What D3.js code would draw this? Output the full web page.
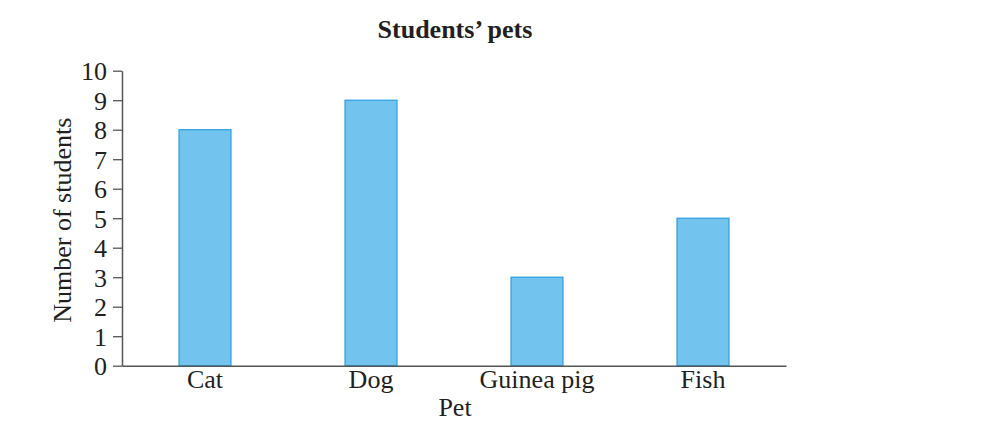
<!DOCTYPE html>
<html>
<head>
<meta charset="utf-8">
<script src="https://cdn.jsdelivr.net/npm/d3@7"></script>
<style>
  html, body { margin: 0; padding: 0; background: #fff; }
  svg { display: block; }
  text { font-family: "Liberation Serif", "DejaVu Serif", serif; fill: #231f20; }
</style>
</head>
<body>
<svg id="chart" width="988" height="442"></svg>
<script>
const categories = ["Cat", "Dog", "Guinea pig", "Fish"];
const values = [8, 9, 3, 5];
const yTicks = [0, 1, 2, 3, 4, 5, 6, 7, 8, 9, 10];
const titleText = "Students\u2019 pets";
const xLabel = "Pet";
const yLabel = "Number of students";

const svg = d3.select("#chart");
const plotLeft = 122, plotRight = 786, plotTop = 70.7, plotBottom = 365.7;
const fs = 26;

const x = d3.scaleBand().domain(categories).range([plotLeft, plotRight])
  .paddingInner(0.687).paddingOuter(0.3435);
const y = d3.scaleLinear().domain([0, 10]).range([plotBottom, plotTop]);

// bars
svg.append("g").selectAll("rect").data(values).join("rect")
  .attr("x", (d, i) => x(categories[i]))
  .attr("y", d => y(d))
  .attr("width", x.bandwidth())
  .attr("height", d => y(0) - y(d))
  .attr("fill", "#72c3ed")
  .attr("stroke", "#2b9fe0")
  .attr("stroke-width", 1.2);

// y axis
const yAxis = svg.append("g").attr("transform", `translate(${plotLeft},0)`)
  .call(d3.axisLeft(y).tickValues(yTicks).tickSize(9).tickPadding(6).tickSizeOuter(0));
yAxis.select(".domain").attr("stroke", "#555").attr("stroke-width", 1.5);
yAxis.selectAll(".tick line").attr("stroke", "#555").attr("stroke-width", 1.3);
yAxis.selectAll(".tick text").attr("font-size", fs).attr("fill", "#231f20")
  .attr("font-family", "Liberation Serif, serif").attr("dy", "0.34em");

// x axis
const xAxis = svg.append("g").attr("transform", `translate(0,${plotBottom})`)
  .call(d3.axisBottom(x).tickSize(0).tickPadding(4).tickSizeOuter(0));
xAxis.select(".domain").attr("stroke", "#555").attr("stroke-width", 1.5);
xAxis.selectAll(".tick text").attr("font-size", fs).attr("fill", "#231f20")
  .attr("font-family", "Liberation Serif, serif");

// title
svg.append("text").attr("x", 455).attr("y", 38).attr("text-anchor", "middle")
  .attr("font-size", fs).attr("font-weight", "bold").text(titleText);

// x label
svg.append("text").attr("x", 455).attr("y", 416).attr("text-anchor", "middle")
  .attr("font-size", fs).text(xLabel);

// y label
svg.append("text").attr("transform", `translate(71,${(plotTop + plotBottom) / 2 + 2}) rotate(-90)`)
  .attr("text-anchor", "middle").attr("font-size", fs).text(yLabel);
</script>
</body>
</html>
